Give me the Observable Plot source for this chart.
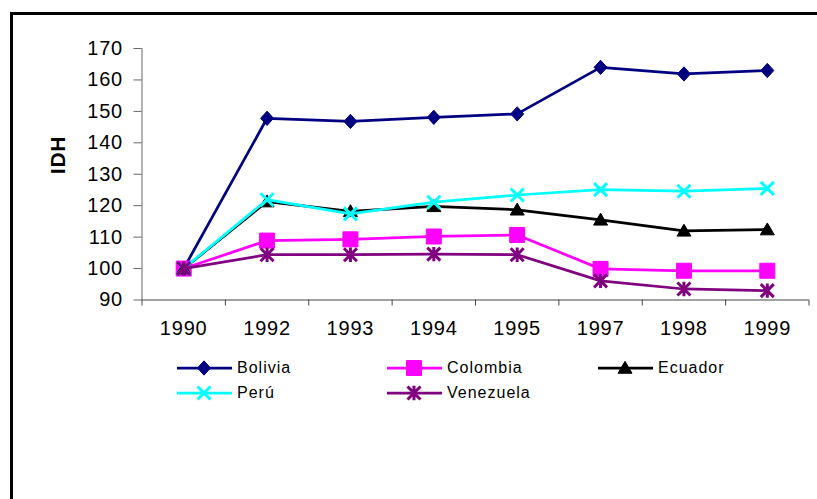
<!DOCTYPE html>
<html><head><meta charset="utf-8">
<script src="https://cdn.jsdelivr.net/npm/d3@7"></script>
<script src="https://cdn.jsdelivr.net/npm/@observablehq/plot@0.6"></script>
<style>
body{margin:0;background:#fff;width:817px;height:499px;overflow:hidden;position:relative;font-family:"Liberation Sans",Arial,sans-serif;}
#chart{position:absolute;left:0;top:0;}
#chart text{letter-spacing:0.8px;}
#frame{position:absolute;left:10px;top:12px;width:900px;height:600px;border-left:3px solid #000;border-top:3px solid #000;pointer-events:none;}
#legend{position:absolute;left:177px;top:357px;display:grid;grid-template-columns:210px 211px 200px;grid-auto-rows:25px;}
.item{display:flex;align-items:center;height:22px;font-size:16px;letter-spacing:1px;color:#000;}
.item svg{margin-right:5px;overflow:visible}
</style></head><body>
<div id="chart"></div><div id="legend"></div><div id="frame"></div>
<script>
const years = ["1990","1992","1993","1994","1995","1997","1998","1999"];
const countries = ["Bolivia","Colombia","Ecuador","Perú","Venezuela"];
const colors = ["#000080","#FF00FF","#000000","#00FFFF","#800080"];
const bolivia   = [100, 147.8, 146.8, 148.1, 149.2, 164.0, 161.9, 163.0];
const colombia  = [100, 108.9, 109.3, 110.2, 110.7, 99.9, 99.3, 99.3];
const ecuador   = [100, 121.3, 118.2, 119.8, 118.7, 115.5, 112.0, 112.4];
const peru      = [100, 121.9, 117.4, 121.1, 123.4, 125.1, 124.6, 125.5];
const venezuela = [100, 104.4, 104.4, 104.6, 104.4, 96.1, 93.5, 93.0];
const yTicks = [90,100,110,120,130,140,150,160,170];
const yLabel = "IDH";

const series = [bolivia, colombia, ecuador, peru, venezuela];

// custom marker shapes (r = half-width)
const rOf = size => Math.sqrt(size / Math.PI);
const diamond = {draw(c, s){const r=rOf(s); c.moveTo(0,-r*1.1); c.lineTo(r,0); c.lineTo(0,r*1.1); c.lineTo(-r,0); c.closePath();}};
const square = {draw(c, s){const r=rOf(s); c.rect(-r,-r,2*r,2*r);}};
const triangle = {draw(c, s){const r=rOf(s); c.moveTo(0,-r*0.95); c.lineTo(r,r*0.75); c.lineTo(-r,r*0.75); c.closePath();}};
const cross = {draw(c, s){const r=rOf(s); c.moveTo(-r,-r); c.lineTo(r,r); c.moveTo(-r,r); c.lineTo(r,-r);}};
const star = {draw(c, s){const r=rOf(s); c.moveTo(-r,-r); c.lineTo(r,r); c.moveTo(-r,r); c.lineTo(r,-r); c.moveTo(0,-r*1.1); c.lineTo(0,r*1.1);}};
const markers = [
  {symbol: diamond, r: 6.5, filled: true},
  {symbol: square, r: 7.5, filled: true},
  {symbol: triangle, r: 7, filled: true},
  {symbol: cross, r: 6.5, filled: false},
  {symbol: star, r: 6.5, filled: false}
];

const rows = [];
countries.forEach((c, k) => series[k].forEach((v, i) => rows.push({country: c, k, i: i + 0.5, v})));

const marks = [
  Plot.ruleX([0], {stroke: "#666", strokeWidth: 1}),
  Plot.ruleY([90], {stroke: "#444", strokeWidth: 1}),
  Plot.axisX({ticks: d3.range(0, years.length + 1), tickSize: 6, tickFormat: () => "", stroke: "#444", label: null}),
  Plot.axisX({ticks: years.map((_, i) => i + 0.5), tickSize: 0, tickPadding: 21, tickFormat: d => years[Math.round(d - 0.5)], fill: "#000", fontSize: 20, label: null}),
  Plot.axisY({ticks: yTicks, tickSize: 8, tickPadding: 11, stroke: "#666", fill: "#000", fontSize: 20, label: null}),
  Plot.text([yLabel], {frameAnchor: "left", dx: -84, rotate: -90, fontSize: 21, fontWeight: "bold", fill: "#000"})
];
countries.forEach((c, k) => {
  const data = rows.filter(d => d.k === k);
  marks.push(Plot.line(data, {x: "i", y: "v", stroke: colors[k], strokeWidth: 2.75}));
  const m = markers[k];
  marks.push(Plot.dot(data, {x: "i", y: "v", symbol: m.symbol, r: m.r,
    fill: m.filled ? colors[k] : "none", stroke: colors[k], strokeWidth: m.filled ? 1 : 3}));
});

const chart = Plot.plot({
  width: 817, height: 340,
  marginLeft: 141.5, marginRight: 8.5, marginTop: 48, marginBottom: 40.5,
  x: {type: "linear", domain: [0, years.length], axis: null, label: null},
  y: {domain: [90, 170], axis: null, label: null},
  style: {fontFamily: '"Liberation Sans", Arial, sans-serif', background: "none", overflow: "visible", color: "#000"},
  marks
});
document.getElementById("chart").append(chart);

// legend
const legend = d3.select("#legend");
const order = [0, 1, 2, 3, 4];
order.forEach(k => {
  const item = legend.append("div").attr("class", "item");
  const svg = item.append("svg").attr("width", 55).attr("height", 20);
  svg.append("line").attr("x1", 0).attr("x2", 55).attr("y1", 10).attr("y2", 10)
    .attr("stroke", colors[k]).attr("stroke-width", 2.75);
  const m = markers[k];
  svg.append("path").attr("transform", "translate(27,10)")
    .attr("d", d3.symbol(m.symbol, Math.PI * m.r * m.r)())
    .attr("fill", m.filled ? colors[k] : "none").attr("stroke", colors[k]).attr("stroke-width", m.filled ? 1 : 3);
  item.append("span").text(countries[k]);
});
</script>
</body></html>
